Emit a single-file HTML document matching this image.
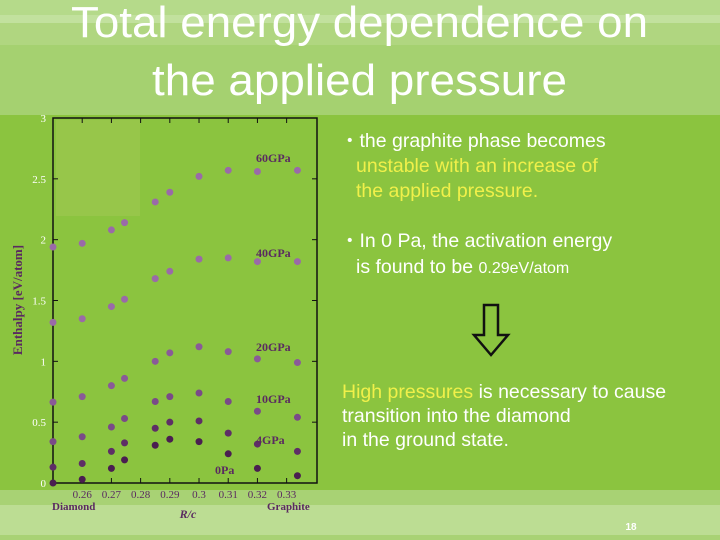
<!DOCTYPE html>
<html><head><meta charset="utf-8"><style>
body{margin:0;width:720px;height:540px;overflow:hidden;background:#8bc43f;font-family:"Liberation Sans",sans-serif}
svg{display:block}
</style></head><body>
<svg width="720" height="540" viewBox="0 0 720 540">
<rect x="0" y="0" width="720" height="540" fill="#8bc43f"/>
<rect x="0" y="0" width="720" height="15" fill="#b5da8a"/>
<rect x="0" y="15" width="720" height="8" fill="#c2e19e"/>
<rect x="0" y="23" width="720" height="22" fill="#b0d680"/>
<rect x="0" y="45" width="720" height="70" fill="#a5d170"/>
<rect x="0" y="490" width="720" height="15" fill="#a8d274"/>
<rect x="0" y="505" width="720" height="30" fill="#bcdd93"/>
<rect x="0" y="535" width="720" height="5" fill="#a8d274"/>
<text x="71" y="37" textLength="577" lengthAdjust="spacingAndGlyphs" font-size="44" fill="#fff">Total energy dependence on</text>
<text x="152" y="95" textLength="415" lengthAdjust="spacingAndGlyphs" font-size="44" fill="#fff">the applied pressure</text>
<rect x="56" y="120" width="84" height="96" fill="#97c64a"/>
<g id="chart"></g>
<g font-size="19.5" fill="#fff">
<text x="340" y="147">・the graphite phase becomes</text>
<text x="356" y="172" fill="#f0f04a">unstable with an increase of</text>
<text x="356" y="197" fill="#f0f04a">the applied pressure.</text>
<text x="340" y="247">・In 0 Pa, the activation energy</text>
<text x="356" y="273">is found to be <tspan font-size="16">0.29eV/atom</tspan></text>
<text x="342" y="398" fill="#f0f04a">High pressures <tspan fill="#fff">is necessary to cause</tspan></text>
<text x="342" y="422">transition into the diamond</text>
<text x="342" y="446">in the ground state.</text>
</g>
<path d="M484 305 h14 v30 h10 l-17 20 l-17 -20 h10 z" fill="none" stroke="#111" stroke-width="2.5"/>
<text x="631" y="530" text-anchor="middle" font-size="10" font-weight="bold" fill="#fff">18</text>
</svg>
<script>
const xs=[0.25,0.26,0.27,0.2745,0.285,0.29,0.30,0.31,0.32,0.3337];
const seriesNames=["60GPa","40GPa","20GPa","10GPa","4GPa","0Pa"];
const s60=[1.94,1.97,2.08,2.14,2.31,2.39,2.52,2.57,2.56,2.57];
const s40=[1.32,1.35,1.45,1.51,1.68,1.74,1.84,1.85,1.82,1.82];
const s20=[0.665,0.71,0.80,0.86,1.00,1.07,1.12,1.08,1.02,0.99];
const s10=[0.34,0.38,0.46,0.53,0.67,0.71,0.74,0.67,0.59,0.54];
const s4=[0.13,0.16,0.26,0.33,0.45,0.50,0.51,0.41,0.32,0.26];
const s0=[0.0,0.03,0.12,0.19,0.31,0.36,0.34,0.24,0.12,0.06];
const xTicks=[0.26,0.27,0.28,0.29,0.30,0.31,0.32,0.33];
const xTickLabels=["0.26","0.27","0.28","0.29","0.3","0.31","0.32","0.33"];
const yTicks=[0,0.5,1,1.5,2,2.5,3];
const yTickLabels=["0","0.5","1","1.5","2","2.5","3"];
const L=53,R=317,T=118,B=483;
const X=v=>L+(v-0.25)/(0.3404-0.25)*(R-L);
const Y=v=>B-v/3*(B-T);
const NS="http://www.w3.org/2000/svg";
const g=document.getElementById('chart');
function mk(t,a,p){const e=document.createElementNS(NS,t);for(const k in a)e.setAttribute(k,a[k]);(p||g).appendChild(e);return e;}
const frame=mk('rect',{x:L,y:T,width:R-L,height:B-T,fill:'none',stroke:'#111','stroke-width':1.5});


xTicks.forEach((v,i)=>{
 const t=mk('line',{x1:X(v),x2:X(v),y1:B,y2:B-5,stroke:'#111'});
 
 
 const t2=mk('line',{x1:X(v),x2:X(v),y1:T,y2:T+5,stroke:'#111'});
 
 
 const l=mk('text',{x:X(v),y:B+15,'text-anchor':'middle','font-size':11,fill:'#5a2a60','font-family':'Liberation Serif, serif'});
 l.textContent=xTickLabels[i];
 
 
});
yTicks.forEach((v,i)=>{
 const t=mk('line',{x1:L,x2:L+5,y1:Y(v),y2:Y(v),stroke:'#111'});
 
 
 const t2=mk('line',{x1:R,x2:R-5,y1:Y(v),y2:Y(v),stroke:'#111'});
 
 
 const l=mk('text',{x:L-7,y:Y(v)+4,'text-anchor':'end','font-size':11,fill:'#fff','font-family':'Liberation Serif, serif'});
 l.textContent=yTickLabels[i];
 
 
});
const all=[s60,s40,s20,s10,s4,s0];
const cols=['#9a6aa8','#9a6aa8','#8a5a98','#7a4a88','#5e2e66','#4a1e50'];
const labY=[158,253,347,399,440,470];
all.forEach((s,k)=>{
 s.forEach((v,i)=>{
  const c=mk('circle',{cx:X(xs[i]),cy:Y(v),r:3.5,fill:cols[k]});
  
  
 });
 const l=mk('text',{x:k==5?215:256,y:labY[k]+4,'font-size':12,'font-weight':'bold',fill:'#5a2a60','font-family':'Liberation Serif, serif'});
 l.textContent=seriesNames[k];
 
 
});
const yt=mk('text',{transform:'translate(22,300) rotate(-90)','text-anchor':'middle','font-size':13,'font-weight':'bold',fill:'#5a2a60','font-family':'Liberation Serif, serif'});
yt.textContent='Enthalpy [eV/atom]';


const xt=mk('text',{x:188,y:518,'text-anchor':'middle','font-size':12,'font-weight':'bold','font-style':'italic',fill:'#5a2a60','font-family':'Liberation Serif, serif'});
xt.textContent='R/c';


const d=mk('text',{x:52,y:510,'font-size':11,'font-weight':'bold',fill:'#5a2a60','font-family':'Liberation Serif, serif'});
d.textContent='Diamond';


const gr=mk('text',{x:267,y:510,'font-size':11,'font-weight':'bold',fill:'#5a2a60','font-family':'Liberation Serif, serif'});
gr.textContent='Graphite';


</script>
</body></html>
